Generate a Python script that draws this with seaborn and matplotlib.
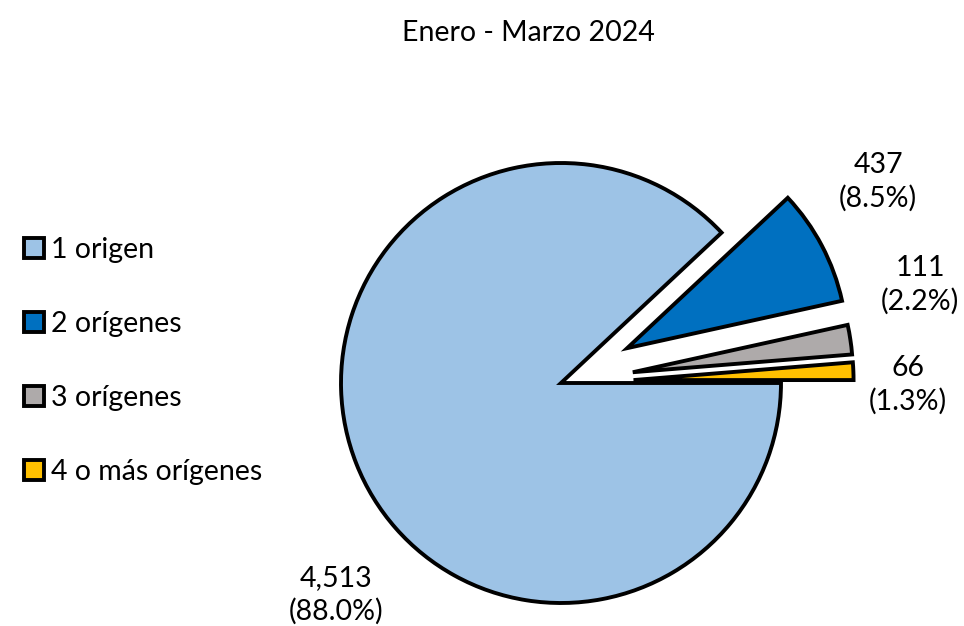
import matplotlib
matplotlib.use("Agg")
import matplotlib.pyplot as plt
import matplotlib.patches as mpatches
import seaborn as sns

# ==== Datos ====
categorias = ["1 origen", "2 orígenes", "3 orígenes", "4 o más orígenes"]
valores = [4513, 437, 111, 66]
porcentajes = [88.0, 8.5, 2.2, 1.3]
colores = ["#9DC3E6", "#0070C0", "#AEAAAA", "#FFC000"]
separacion = [0.0, 0.34, 0.33, 0.33]
titulo = "Enero - Marzo 2024"

sns.set_theme(style="white")
plt.rcParams["font.family"] = ["Lato", "DejaVu Sans"]
plt.rcParams["text.color"] = "black"

fig = plt.figure(figsize=(9.64, 6.26), dpi=100)
ax = fig.add_axes([0, 0, 1, 1])

wedges, _ = ax.pie(
    valores, colors=colores, explode=separacion, startangle=0, counterclock=False,
    radius=1.0, wedgeprops=dict(edgecolor="black", linewidth=2.8, joinstyle="miter"),
)

# escala: 220 px por unidad, centro en (561, 383) px
ax.set_xlim(-561 / 220, (964 - 561) / 220)
ax.set_ylim(-(626 - 383) / 220, 383 / 220)
ax.set_aspect("equal")
ax.axis("off")

pos_etiquetas = [(-1.023, -0.964), (1.441, 0.914), (1.632, 0.445), (1.577, -0.009)]
for (x, y), v, p in zip(pos_etiquetas, valores, porcentajes):
    ax.text(x, y, f"{v:,}\n({p:.1f}%)", ha="center", va="center",
            fontsize=20.5, linespacing=1.32, color="black")

fig.text(0.548, 1 - 33 / 626, titulo, ha="center", va="center", fontsize=20.5, color="black")

handles = [mpatches.Patch(facecolor=c, edgecolor="black", linewidth=2.8) for c in colores]
fig.legend(handles, categorias, loc="center left", bbox_to_anchor=(-0.002, 1 - 361 / 626),
           frameon=False, fontsize=20.5, handlelength=0.7, handleheight=0.7,
           handletextpad=0.25, labelspacing=1.68, labelcolor="black")

fig.savefig("out.png", dpi=100)
